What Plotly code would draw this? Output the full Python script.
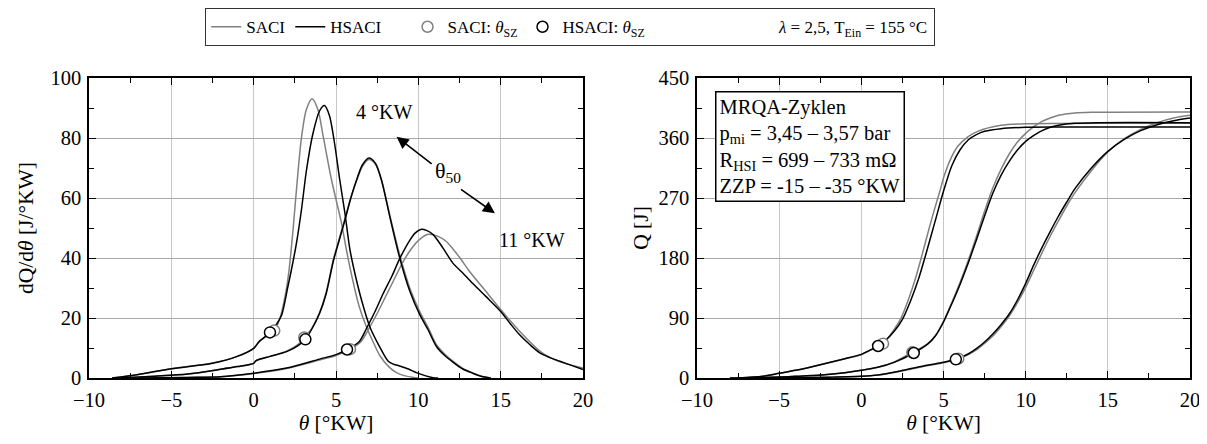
import plotly.graph_objects as go

# ---------------- data: left plot dQ/dtheta ----------------
# group 1 (early)
g1_saci_x = [-8.6, -7, -5, -2.5, -1, 0, 0.3, 1.25, 1.6, 1.9, 2.15, 2.4, 2.65, 2.9, 3.2, 3.55, 3.9, 4.22, 4.73, 5.33, 5.64, 6.0, 6.4, 6.85, 7.3, 7.66, 8.2, 8.67, 9.2, 9.7, 10.0]
g1_saci_y = [0, 1.2, 3.1, 5.0, 7.2, 9.9, 12.0, 15.8, 20, 27, 36, 50, 66, 80, 89.5, 93.1, 89.5, 80.6, 66, 51.7, 42.5, 33, 24, 17, 11.5, 7.5, 3.8, 1.8, 0.7, 0.2, 0]
g1_hsaci_x = [-8.6, -7, -5, -2.5, -1, 0, 0.35, 1.0, 1.4, 1.7, 2.06, 2.29, 2.6, 2.9, 3.2, 3.6, 4.0, 4.3, 4.6, 4.89, 5.23, 5.54, 5.84, 6.1, 6.55, 7.06, 7.66, 8.17, 8.5, 8.87, 9.4, 9.88, 10.4, 10.9, 11.2]
g1_hsaci_y = [0, 1.2, 3.1, 4.9, 7.2, 9.9, 12.2, 15.2, 18, 21, 30, 36, 45, 56, 69, 81.5, 89, 90.8, 87.5, 79, 66, 55, 43, 36, 26, 17, 10.3, 5.6, 4.6, 4.0, 3.0, 1.8, 0.8, 0.1, 0]
# group 2 (middle)
g2_saci_x = [-8.2, -6, -4, -2, -1, 0, 0.15, 1, 2, 2.7, 3.07, 3.5, 4.0, 4.4, 4.84, 5.2, 5.54, 5.9, 6.25, 6.6, 7.0, 7.4, 7.76, 8.3, 8.87, 9.48, 10.08, 10.6, 11.1, 11.6, 12.1, 12.7, 13.3, 13.8, 14.4]
g2_saci_y = [0, 0.6, 1.3, 2.9, 3.8, 4.9, 5.8, 7.2, 8.9, 11.2, 13.5, 16.3, 21.8, 28.5, 39.5, 46.5, 53, 60, 65.8, 70.5, 72.8, 71.2, 66, 53.5, 41, 30, 22.2, 16.8, 11.1, 8.0, 5.6, 3.2, 1.7, 0.6, 0]
g2_hsaci_x = [-8.2, -6, -4, -2, -1, 0, 0.15, 1, 2, 2.7, 3.14, 3.5, 4.0, 4.4, 4.84, 5.2, 5.54, 5.9, 6.25, 6.6, 7.0, 7.4, 7.76, 8.3, 8.87, 9.48, 10.08, 10.6, 11.1, 11.6, 12.1, 12.7, 13.3, 13.8, 14.4]
g2_hsaci_y = [0, 0.6, 1.3, 2.9, 3.8, 4.9, 5.8, 7.2, 8.8, 10.8, 12.9, 16, 21.5, 28, 39, 46, 52.6, 60, 66, 71, 73.3, 71.5, 66, 53, 40, 29, 21.2, 16, 10.5, 7.5, 5.3, 3.0, 1.6, 0.6, 0]
# group 3 (late)
g3_saci_x = [-7, -4, -2, 0, 2, 4, 5.0, 5.85, 6.5, 7.0, 7.5, 8.0, 8.5, 9.0, 9.5, 10.08, 10.6, 11.2, 11.7, 12.1, 12.6, 13.1, 14.1, 15.0, 16.15, 17.4, 18.0, 18.7, 20]
g3_saci_y = [0, 0.2, 0.4, 1.5, 3.2, 6.0, 7.5, 9.6, 12, 16.5, 21.5, 27, 32.5, 38, 42.5, 46.2, 47.9, 47.2, 45.5, 43, 39.5, 35.6, 28.9, 22.8, 15.6, 8.9, 6.8, 5.2, 3.3]
g3_hsaci_x = [-7, -4, -2, 0, 2, 4, 5.0, 5.67, 6.42, 6.85, 7.4, 7.86, 8.4, 8.87, 9.48, 9.8, 10.18, 10.5, 10.9, 11.5, 12.1, 12.7, 13.4, 14.1, 15.0, 15.6, 16.15, 16.8, 17.4, 18.0, 18.6, 19.3, 20]
g3_hsaci_y = [0, 0.2, 0.4, 1.6, 3.3, 6.3, 7.8, 9.5, 12.2, 16.5, 22.5, 28.1, 34, 39.8, 45.9, 48.3, 49.6, 49.2, 47.8, 43.3, 38.3, 35, 31, 27.2, 22.2, 18, 14.4, 11, 8.3, 6.8, 5.6, 4.2, 2.8]

# ignition markers (theta_SZ) left plot
sz_saci_x = [1.25, 3.07, 5.85]
sz_saci_dq = [15.8, 13.5, 9.6]
sz_hsaci_x = [0.99, 3.14, 5.67]
sz_hsaci_dq = [15.2, 12.9, 9.5]

# ---------------- data: right plot Q ----------------
q1_saci_x = [-7.5, -6, -5, -4, -3, -2, -1, 0, 0.5, 1.32, 2.0, 2.4, 2.9, 3.3, 3.66, 4.1, 4.45, 4.8, 5.06, 5.5, 5.87, 6.5, 7.08, 8.5, 10, 20]
q1_saci_y = [0, 2.5, 7, 11.5, 17, 23, 29, 35, 41, 51.5, 73, 89, 120, 150, 181.5, 222, 253, 282, 305, 332, 347.5, 362, 370, 379, 381.5, 382]
q1_hsaci_x = [-7.5, -6, -5, -4, -3, -2, -1, 0, 0.5, 1.02, 1.5, 2.0, 2.5, 3.0, 3.5, 4.0, 4.5, 5.0, 5.5, 6.0, 6.5, 7.0, 7.5, 8.5, 10, 12, 20]
q1_hsaci_y = [0, 2.5, 7, 11.5, 17, 23, 29, 35.5, 41.5, 48, 57, 70, 88, 116, 150, 192, 236, 280, 318, 342, 357, 365, 370, 374, 376, 376.5, 376.5]
q2_saci_x = [-8, -6, -5, -4, -2.4, -1, 0, 1, 2, 3.1, 4.0, 4.5, 5.0, 5.5, 6.0, 6.5, 7.0, 7.5, 8.0, 8.5, 9.0, 9.5, 10.0, 10.5, 11.0, 11.5, 12.0, 13.0, 14.0, 20]
q2_saci_y = [0, 0.8, 1.5, 2.5, 4.5, 8, 11.5, 16, 24, 38.5, 51, 63, 85, 113, 143, 176, 212, 250, 285, 313, 336, 354, 367, 377, 385, 390, 394, 397.5, 398.5, 399]
q2_hsaci_x = [-8, -6, -5, -4, -2.4, -1, 0, 1, 2, 3.19, 4.07, 4.5, 5.0, 5.5, 6.0, 6.5, 7.0, 7.5, 8.0, 8.5, 9.0, 9.5, 10.0, 10.5, 11.0, 11.5, 12.0, 13.0, 14.4, 20]
q2_hsaci_y = [0, 0.8, 1.5, 2.5, 4.5, 8, 11.5, 16, 23.5, 37.5, 51.5, 63, 84, 111, 140, 172, 207, 243, 277, 304, 325, 342, 355, 364, 371, 376, 379, 382, 383, 383]
q3_saci_x = [-6, -4, -2, 0, 1, 2.54, 4, 5.0, 5.9, 6.5, 7.0, 7.5, 8.0, 8.5, 9.0, 9.5, 10.0, 10.5, 11.0, 11.5, 12.0, 12.5, 13.0, 14.0, 15.0, 16.0, 17.0, 18.0, 19.0, 20.0]
q3_saci_y = [0, 0.5, 1.2, 2.5, 4.3, 11, 18.5, 23, 29, 35, 42, 52, 63, 77, 93, 113, 136, 162, 188, 213, 236, 258, 278, 311, 339, 359, 373, 383, 390, 394]
q3_hsaci_x = [-6, -4, -2, 0, 1, 2.54, 4, 5.0, 5.75, 6.5, 7.0, 7.5, 8.0, 8.5, 9.0, 9.5, 10.0, 10.5, 11.0, 11.5, 12.0, 12.5, 13.0, 14.0, 15.0, 16.0, 17.0, 18.0, 19.0, 20.0]
q3_hsaci_y = [0, 0.5, 1.2, 2.5, 4.5, 11.5, 19, 23.5, 28, 36, 44, 54, 66, 80, 96, 117, 142, 170, 196, 220, 243, 264, 284, 315, 340, 358, 371, 380, 386, 390]

sz_saci_q = [51.5, 38.5, 29]
sz_saci_xq = [1.32, 3.1, 5.9]
sz_hsaci_q = [48, 37.5, 28]
sz_hsaci_xq = [1.02, 3.19, 5.75]

# tick definitions
x_ticks = [-10, -5, 0, 5, 10, 15, 20]
dq_ticks = [0, 20, 40, 60, 80, 100]
q_ticks = [0, 90, 180, 270, 360, 450]

GREY = "#808080"
BLACK = "#000000"
FONT = "Liberation Serif"
NB = "\u00a0"

fig = go.Figure()

left_sets_saci = [(g1_saci_x, g1_saci_y), (g2_saci_x, g2_saci_y), (g3_saci_x, g3_saci_y)]
left_sets_hsaci = [(g1_hsaci_x, g1_hsaci_y), (g2_hsaci_x, g2_hsaci_y), (g3_hsaci_x, g3_hsaci_y)]
right_sets_saci = [(q1_saci_x, q1_saci_y), (q2_saci_x, q2_saci_y), (q3_saci_x, q3_saci_y)]
right_sets_hsaci = [(q1_hsaci_x, q1_hsaci_y), (q2_hsaci_x, q2_hsaci_y), (q3_hsaci_x, q3_hsaci_y)]

def add_lines(sets, color, name, xa, ya, show, rank):
    for i, (xs, ys) in enumerate(sets):
        fig.add_trace(go.Scatter(
            x=xs, y=ys, mode="lines", xaxis=xa, yaxis=ya,
            line=dict(color=color, width=1.5, shape="spline", smoothing=0.8),
            name=name, legendgroup=name, legendrank=rank,
            showlegend=(show and i == 0), hoverinfo="skip"))

add_lines(left_sets_saci, GREY, "SACI", "x", "y", True, 1)
add_lines(right_sets_saci, GREY, "SACI", "x2", "y2", False, 1)
add_lines(left_sets_hsaci, BLACK, "HSACI" + NB * 5, "x", "y", True, 2)
add_lines(right_sets_hsaci, BLACK, "HSACI" + NB * 5, "x2", "y2", False, 2)

name_sz_saci = "SACI: <i>θ</i><sub>SZ</sub>"
name_sz_hsaci = "HSACI: <i>θ</i><sub>SZ</sub>" + NB * 21
for xa, ya, xs, ys, show in [("x", "y", sz_saci_x, sz_saci_dq, True), ("x2", "y2", sz_saci_xq, sz_saci_q, False)]:
    fig.add_trace(go.Scatter(x=xs, y=ys, mode="markers", xaxis=xa, yaxis=ya,
                             marker=dict(symbol="circle", size=11, color="white",
                                         line=dict(color=GREY, width=1.5)),
                             name=name_sz_saci, legendgroup="szs", legendrank=3,
                             showlegend=show, hoverinfo="skip"))
for xa, ya, xs, ys, show in [("x", "y", sz_hsaci_x, sz_hsaci_dq, True), ("x2", "y2", sz_hsaci_xq, sz_hsaci_q, False)]:
    fig.add_trace(go.Scatter(x=xs, y=ys, mode="markers", xaxis=xa, yaxis=ya,
                             marker=dict(symbol="circle", size=11, color="white",
                                         line=dict(color=BLACK, width=1.5)),
                             name=name_sz_hsaci, legendgroup="szh", legendrank=4,
                             showlegend=show, hoverinfo="skip"))

# legend-only entry for operating conditions
fig.add_trace(go.Scatter(x=[None], y=[None], mode="markers",
                         marker=dict(color="rgba(0,0,0,0)", size=1, line=dict(width=0)),
                         name="<i>λ</i> = 2,5, T<sub>Ein</sub> = 155 °C",
                         legendrank=5, showlegend=True, hoverinfo="skip"))

# The page body adds an 8 px offset; layout pixel targets are shifted by it.
W, H = 1207, 444
OFF = 8
def px(v):
    return (v - OFF) / W
def py(v):
    return 1 - (v - OFF) / H

lx0, lx1 = px(89), px(583)
rx0, rx1 = px(697), px(1190)
y0, y1 = py(378), py(78)

TICKF = dict(family=FONT, size=20.5, color="black")
TITLEF = dict(family=FONT, size=21.5, color="black")

axis_common = dict(
    showline=True, linecolor="black", linewidth=1.5, mirror="allticks",
    ticks="inside", ticklen=7, tickwidth=1.3, tickcolor="black",
    showgrid=True, gridwidth=1, zeroline=False, automargin=False,
    tickfont=TICKF,
)
xax = dict(axis_common, range=[-10, 20], tickvals=x_ticks, gridcolor="#c8c8c8", ticklabelstandoff=3,
           minor=dict(ticks="inside", ticklen=5, tickwidth=1.3, tickcolor="black", dtick=2.5, tick0=0, showgrid=False),
           title=dict(text="<i>θ</i> [°KW]", font=TITLEF, standoff=0))
fig.update_layout(
    xaxis=dict(xax, domain=[lx0, lx1], anchor="y"),
    xaxis2=dict(xax, domain=[rx0, rx1], anchor="y2"),
    yaxis=dict(axis_common, range=[0, 100], tickvals=dq_ticks, gridcolor="#a8a8a8", domain=[y0, y1], anchor="x",
               ticklabelstandoff=2,
               minor=dict(ticks="inside", ticklen=5, tickwidth=1.3, tickcolor="black", dtick=10, tick0=0, showgrid=False),
               title=dict(text="dQ/d<i>θ</i> [J/°KW]", font=TITLEF, standoff=11)),
    yaxis2=dict(axis_common, range=[0, 450], tickvals=q_ticks, gridcolor="#a8a8a8", domain=[y0, y1], anchor="x2",
                ticklabelstandoff=2,
                minor=dict(ticks="inside", ticklen=5, tickwidth=1.3, tickcolor="black", dtick=45, tick0=0, showgrid=False),
                title=dict(text="Q [J]", font=TITLEF, standoff=4)),
    width=W, height=H,
    margin=dict(l=0, r=0, t=0, b=0, autoexpand=False),
    plot_bgcolor="white", paper_bgcolor="white",
    font=dict(family=FONT, color="black"),
    legend=dict(orientation="h", x=px(205), y=1.0, xanchor="left", yanchor="top",
                bordercolor="#333333", borderwidth=1.2, bgcolor="white",
                font=dict(family=FONT, size=17, color="black"),
                traceorder="normal", itemwidth=30, tracegroupgap=0),
    showlegend=True,
)

ann_font = dict(family=FONT, size=20, color="black")
fig.add_annotation(x=7.9, y=88.5, xref="x", yref="y", text="4 °KW", showarrow=False, font=ann_font)
fig.add_annotation(x=11.8, y=68.5, xref="x", yref="y", text="θ<sub>50</sub>", showarrow=False, font=dict(family=FONT, size=22, color="black"))
fig.add_annotation(x=16.9, y=46, xref="x", yref="y", text="11 °KW", showarrow=False, font=ann_font)
fig.add_annotation(x=8.68, y=80.4, ax=10.9, ay=71, xref="x", yref="y", axref="x", ayref="y",
                   text="", showarrow=True, arrowhead=2, arrowsize=1.5, arrowwidth=1.6, arrowcolor="black")
fig.add_annotation(x=14.65, y=54.9, ax=12.5, ay=63.2, xref="x", yref="y", axref="x", ayref="y",
                   text="", showarrow=True, arrowhead=2, arrowsize=1.5, arrowwidth=1.6, arrowcolor="black")

fig.add_annotation(x=-8.9, y=430, xref="x2", yref="y2", xanchor="left", yanchor="top",
                   text="MRQA-Zyklen<br>p<sub>mi</sub> = 3,45 – 3,57 bar<br>R<sub>HSI</sub> = 699 – 733 mΩ<br>ZZP = -15 – -35 °KW",
                   showarrow=False, align="left", bordercolor="black", borderwidth=1.5, borderpad=3,
                   bgcolor="white", font=dict(family=FONT, size=20.5, color="black"))

fig.write_html("out.html")
